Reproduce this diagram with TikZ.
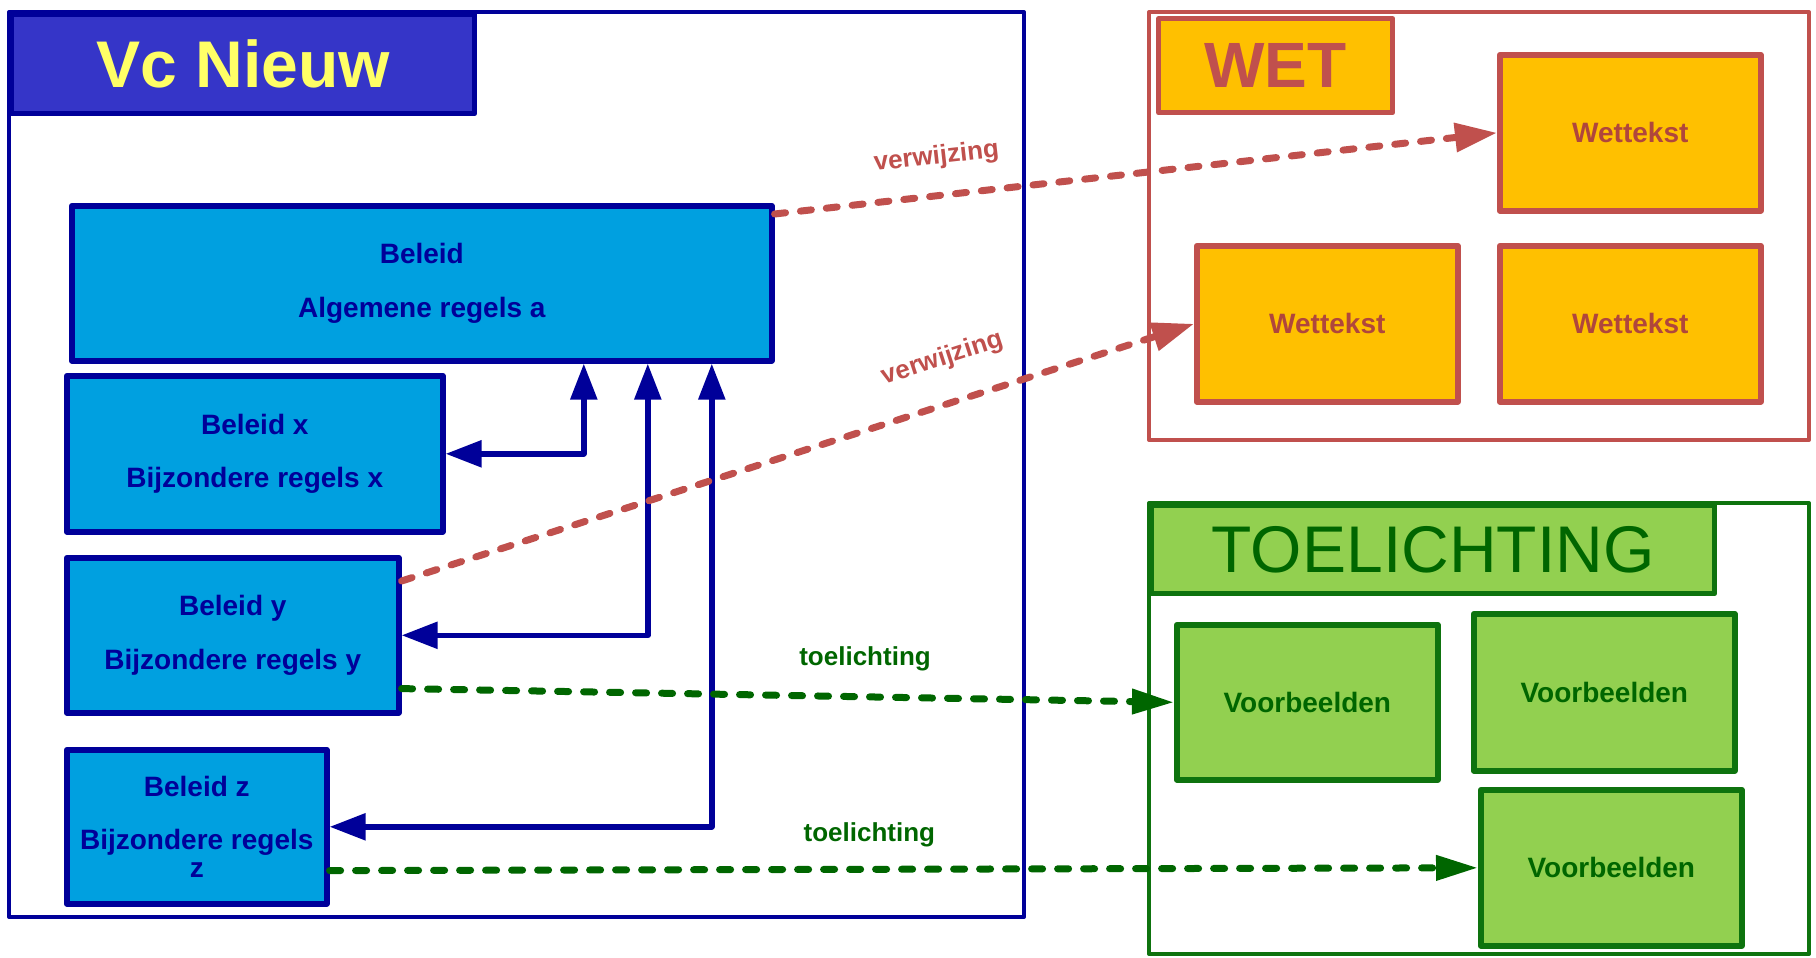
\documentclass[tikz,border=0pt]{standalone}
\usepackage{fontspec}
\setmainfont{Liberation Sans}
\usetikzlibrary{arrows.meta}
\definecolor{vcnavy}{HTML}{000099}
\definecolor{vctitel}{HTML}{3535C8}
\definecolor{vcgeel}{HTML}{FFFF66}
\definecolor{vcblauw}{HTML}{00A0E0}
\definecolor{wetrood}{HTML}{C0504D}
\definecolor{wetoranje}{HTML}{FFC000}
\definecolor{wettekst}{HTML}{B0463C}
\definecolor{toegroen}{HTML}{0E730E}
\definecolor{toelicht}{HTML}{92D050}
\definecolor{toetekst}{HTML}{006600}
\tikzset{
  beleid/.style={draw=vcnavy,fill=vcblauw,line width=2.8pt,text=vcnavy,
    font=\bfseries\fontsize{14}{16.8}\selectfont,align=center,anchor=north west,inner sep=0pt},
  wetbox/.style={draw=wetrood,fill=wetoranje,line width=2.8pt,text=wettekst,
    font=\bfseries\fontsize{14}{16.8}\selectfont,anchor=north west,inner sep=0pt,
    minimum width=130.5pt,minimum height=78pt},
  voorbeeld/.style={draw=toegroen,fill=toelicht,line width=2.8pt,text=toetekst,
    font=\bfseries\fontsize{14}{16.8}\selectfont,anchor=north west,inner sep=0pt,
    minimum width=130.5pt,minimum height=77.5pt},
  kader/.style={line width=2pt},
  titel/.style={line width=2.6pt,anchor=north west,inner sep=0pt,font=\fontsize{33}{38}\selectfont},
  link/.style={draw=vcnavy,line width=2.8pt,arrows={Triangle[length=18pt,width=13pt]-Triangle[length=18pt,width=13pt]}},
  ref/.style={draw=wetrood,line width=3.5pt,line cap=round,dash pattern=on 5.5pt off 7.5pt,
    -{Triangle[length=21pt,width=14pt]}},
  expl/.style={draw=toetekst,line width=3.5pt,line cap=round,dash pattern=on 5.5pt off 7.5pt,
    -{Triangle[length=21pt,width=12pt]}},
  reflabel/.style={text=wetrood,font=\bfseries\fontsize{13}{15}\selectfont,sloped},
  expllabel/.style={text=toetekst,font=\bfseries\fontsize{13}{15}\selectfont}
}
\begin{document}
\begin{tikzpicture}[x=0.5pt,y=-0.5pt,line join=round]
\useasboundingbox (0,0) rectangle (1816,958);
% Vc Nieuw
\draw[kader,vcnavy] (9,12) rectangle (1024,917);
\node[titel,draw=vcnavy,fill=vctitel,text=vcgeel,font=\bfseries\fontsize{33}{38}\selectfont,
  minimum width=231.5pt,minimum height=49.5pt] (vctitel) at (9,12) {Vc Nieuw};
\node[beleid,minimum width=350pt,minimum height=77.5pt] (boxa) at (69,203) {Beleid\\[10pt]Algemene regels a};
\node[beleid,minimum width=188pt,minimum height=78pt] (boxx) at (64,373) {Beleid x\\[10pt]Bijzondere regels x};
\node[beleid,minimum width=166pt,minimum height=77.5pt] (boxy) at (64,555) {Beleid y\\[10pt]Bijzondere regels y};
\node[beleid,minimum width=130pt,minimum height=77pt] (boxz) at (64,747) {Beleid z\\[10pt]Bijzondere regels\\[-3pt]z};
\draw[link] (boxx.east) -| ([xshift=81pt]boxa.south);
\draw[link] (boxy.east) -| ([xshift=113pt]boxa.south);
\draw[link] (boxz.east) -| ([xshift=145pt]boxa.south);
% WET
\draw[kader,wetrood] (1149,12) rectangle (1809,440);
\node[titel,draw=wetrood,fill=wetoranje,text=wetrood,font=\bfseries\fontsize{32}{38}\selectfont,
  minimum width=117pt,minimum height=47pt] (wettitel) at (1156,16) {WET};
\node[wetbox] (wet1) at (1497,52) {Wettekst};
\node[wetbox] (wet2) at (1194,243) {Wettekst};
\node[wetbox] (wet3) at (1497,243) {Wettekst};
% TOELICHTING
\draw[kader,toegroen] (1149,503) rectangle (1809,954);
\node[titel,draw=toegroen,fill=toelicht,text=toetekst,
  minimum width=281.5pt,minimum height=44pt] (toetitel) at (1149,503) {TOELICHTING};
\node[voorbeeld] (vb1) at (1174,622) {Voorbeelden};
\node[voorbeeld,minimum height=78.5pt] (vb2) at (1471,611) {Voorbeelden};
\node[voorbeeld,minimum height=78pt] (vb3) at (1478,787) {Voorbeelden};
% verwijzingen
\draw[ref] ([yshift=-5.5pt]boxa.north east) -- node[reflabel,pos=.23,above=8pt] {verwijzing} (wet1.west);
\draw[ref] ([yshift=-13pt]boxy.north east) -- node[reflabel,pos=.7,above=11pt] {verwijzing} (wet2.west);
\draw[expl] ([yshift=13.5pt]boxy.south east) -- node[expllabel,pos=.6,above=8pt] {toelichting} (vb1.west);
\draw[expl] ([yshift=18pt]boxz.south east) -- node[expllabel,pos=.47,above=6pt] {toelichting} (vb3.west);
\end{tikzpicture}
\end{document}
